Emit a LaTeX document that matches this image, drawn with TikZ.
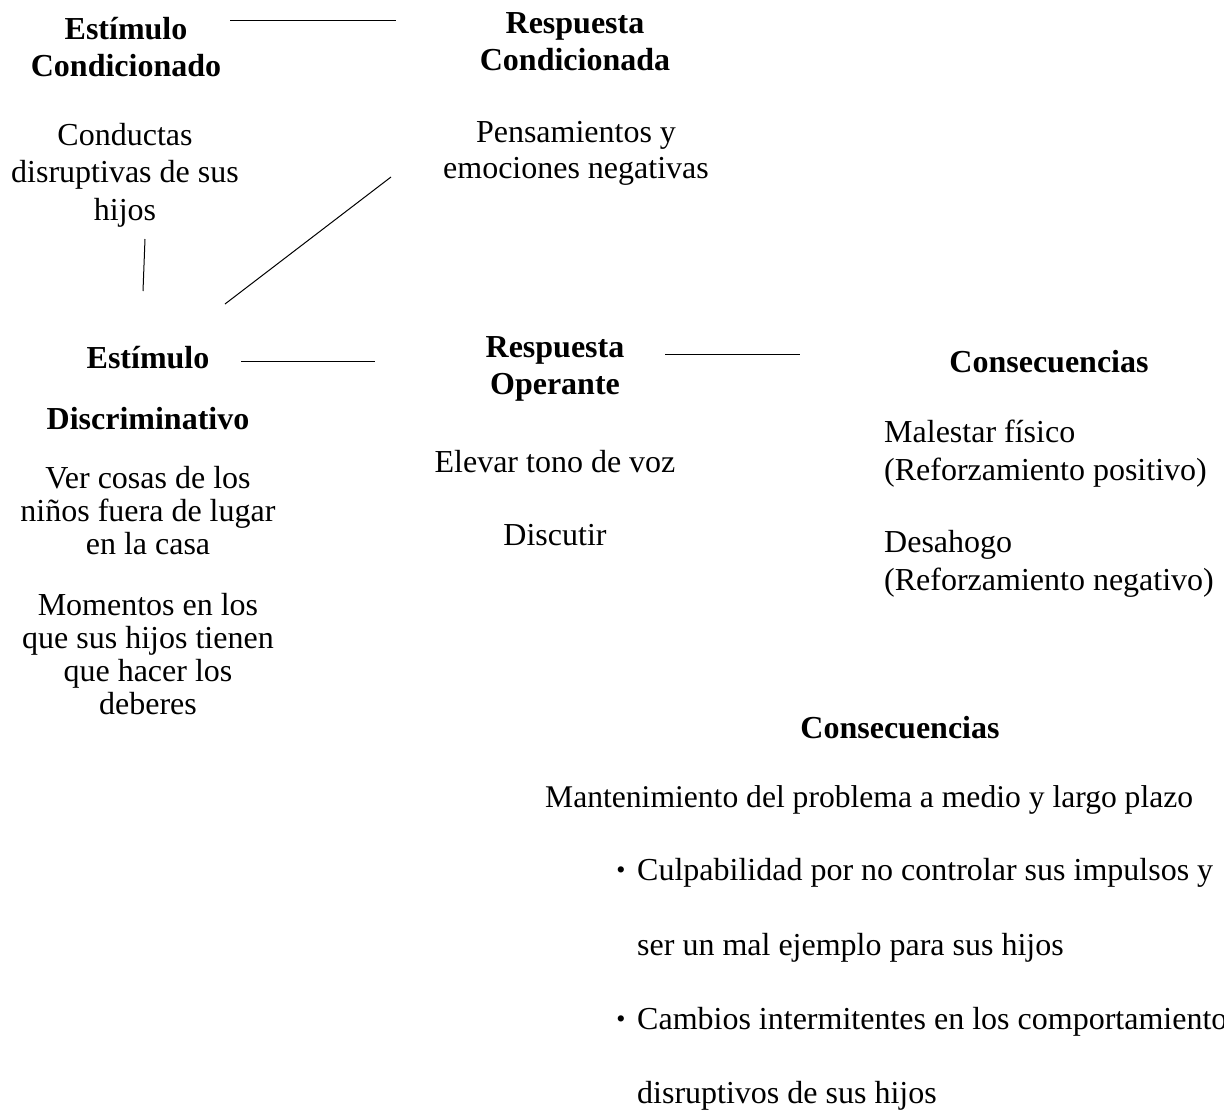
\documentclass[tikz,border=0pt]{standalone}
\usepackage{fontspec}
\setmainfont{Liberation Serif}
\begin{document}
\begin{tikzpicture}[x=1pt,y=-1pt,
  txt/.style={inner sep=0pt, align=center, yshift=-3pt, font=\fontsize{32}{37.5}\selectfont},
  ttl/.style={txt, font=\fontsize{32}{37}\selectfont\bfseries},
  tight/.style={txt, font=\fontsize{32}{33}\selectfont},
  lft/.style={inner sep=0pt, align=left, anchor=west, yshift=-3pt, font=\fontsize{32}{38}\selectfont},
  bul/.style={inner sep=0pt, yshift=-3pt, font=\fontsize{26}{28}\selectfont},
  link/.style={line width=1pt}]
\useasboundingbox (0,0) rectangle (1224,1111);
\clip (0,0) rectangle (1224,1111);

% top row
\node[ttl] (ecTitle) at (126,44) {Estímulo\\Condicionado};
\node[ttl] (rcTitle) at (575,39) {Respuesta\\Condicionada};
\node[txt] (ecText) at (125,172) {Conductas\\disruptivas de sus\\hijos};
\node[txt, font=\fontsize{32}{36}\selectfont] (rcText) at (576,150) {Pensamientos y\\emociones negativas};

% middle row
\node[ttl] (edTitleA) at (148,355) {Estímulo};
\node[ttl] (edTitleB) at (148,416) {Discriminativo};
\node[tight] (edTextA) at (148,508) {Ver cosas de los\\niños fuera de lugar\\en la casa};
\node[tight] (edTextB) at (148,651) {Momentos en los\\que sus hijos tienen\\que hacer los\\deberes};

\node[ttl] (roTitle) at (555,366) {Respuesta\\Operante};
\node[txt] (roA) at (555,459) {Elevar tono de voz};
\node[txt] (roB) at (555,532) {Discutir};

\node[ttl] (cTitleA) at (1049,359) {Consecuencias};
\node[lft] (cA) at (884,451) {Malestar físico\\(Reforzamiento positivo)};
\node[lft] (cB) at (884,561) {Desahogo\\(Reforzamiento negativo)};

% bottom block
\node[ttl] (cTitleB) at (900,725) {Consecuencias};
\node[lft, font=\fontsize{31.6}{38}\selectfont] (cMain) at (545,797) {Mantenimiento del problema a medio y largo plazo};
\node[bul] (bulA) at (621,870) {•};
\node[lft] (bA1) at (637,870) {Culpabilidad por no controlar sus impulsos y};
\node[lft] (bA2) at (637,945) {ser un mal ejemplo para sus hijos};
\node[bul] (bulB) at (621,1019) {•};
\node[lft] (bB1) at (637,1019) {Cambios intermitentes en los comportamientos};
\node[lft] (bB2) at (637,1093) {disruptivos de sus hijos};

% connectors
\coordinate (l1a) at (230,20);  \coordinate (l1b) at (396,20);
\coordinate (l2a) at (145,239); \coordinate (l2b) at (143,291);
\coordinate (l3a) at (391,177); \coordinate (l3b) at (225,304);
\coordinate (l4a) at (241,361); \coordinate (l4b) at (375,361);
\coordinate (l5a) at (665,354); \coordinate (l5b) at (800,354);
\draw[link] (l1a) -- (l1b);
\draw[link] (l2a) -- (l2b);
\draw[link] (l3a) -- (l3b);
\draw[link] (l4a) -- (l4b);
\draw[link] (l5a) -- (l5b);
\end{tikzpicture}
\end{document}
